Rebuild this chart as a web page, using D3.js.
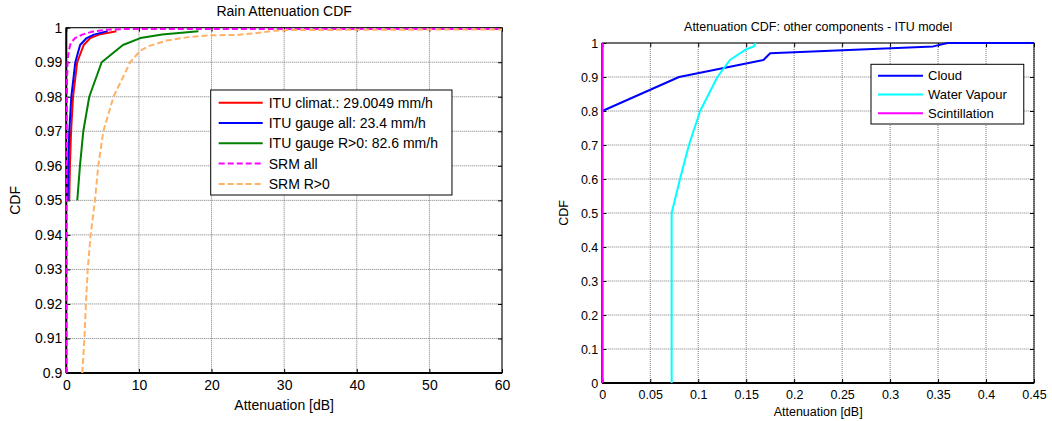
<!DOCTYPE html>
<html><head><meta charset="utf-8">
<script src="https://cdn.jsdelivr.net/npm/d3@7"></script>
<style>body{margin:0;background:#fff}svg{display:block}text{font-family:"Liberation Sans",Arial,sans-serif;fill:#000}</style>
</head><body>
<svg id="c" width="1052" height="421"></svg>
<script>
// ---------- Data: Rain Attenuation CDF (left) ----------
const ituProbs = [0.95,0.96,0.97,0.98,0.99,0.995,0.997,0.998,0.999];
const ituClimat = [0.41,0.50,0.66,0.93,1.50,2.40,3.30,4.50,6.90];
const ituGaugeAll = [0.20,0.28,0.41,0.69,1.24,1.90,2.80,3.80,5.70];
const ituGaugePos = [1.51,1.88,2.34,3.16,4.87,7.80,10.2,13.2,18.2];
const srmAllX = [0.03,0.05,0.10,0.18,0.30,0.60,1.20,2.20,3.50,5.50,8.0,60];
const srmAllY = [0.90,0.97,0.985,0.99,0.993,0.9955,0.997,0.998,0.9988,0.9994,0.9996,0.9996];
const srmPosX = [2.2,2.35,2.5,2.7,2.95,3.15,3.35,3.95,4.4,5.1,6.5,8.8,10.2,11.55,13.85,16.6,19.8,23.5,26.0,28.5,30.5,40,60];
const srmPosY = [0.90,0.905,0.91,0.92,0.93,0.935,0.94,0.95,0.96,0.97,0.98,0.99,0.9934,0.9948,0.9963,0.9972,0.9978,0.9979,0.9984,0.9991,0.9993,0.9994,0.9995];
const leftXTicks = [0,10,20,30,40,50,60];
const leftYTicks = [0.9,0.91,0.92,0.93,0.94,0.95,0.96,0.97,0.98,0.99,1];
const leftLabels = ["ITU climat.: 29.0049 mm/h","ITU gauge all: 23.4 mm/h","ITU gauge R>0: 82.6 mm/h","SRM all","SRM R>0"];

// ---------- Data: other components (right) ----------
const cloudX = [0,0.08,0.168,0.175,0.345,0.36,0.45];
const cloudY = [0.8,0.9,0.95,0.97,0.99,1.0,1.0];
const vapourX = [0.0723,0.0723,0.081,0.0903,0.102,0.120,0.133,0.149,0.158,0.160];
const vapourY = [0,0.5,0.6,0.7,0.8,0.9,0.95,0.98,0.99,1.0];
const scintX = [0,0];
const scintY = [0,1];
const rightXTicks = [0,0.05,0.1,0.15,0.2,0.25,0.3,0.35,0.4,0.45];
const rightYTicks = [0,0.1,0.2,0.3,0.4,0.5,0.6,0.7,0.8,0.9,1];
const rightLabels = ["Cloud","Water Vapour","Scintillation"];

const svg = d3.select("#c");

function panel(o){
  const g = svg.append("g");
  const x = d3.scaleLinear().domain(o.xd).range([o.x0,o.x1]);
  const y = d3.scaleLinear().domain(o.yd).range([o.y1,o.y0]);
  // grid
  g.selectAll(".gx").data(o.xt).join("line")
    .attr("x1",d=>x(d)).attr("x2",d=>x(d)).attr("y1",o.y0).attr("y2",o.y1)
    .attr("stroke","#7a7a7a").attr("stroke-width",1).attr("stroke-dasharray","1,1");
  g.selectAll(".gy").data(o.yt).join("line")
    .attr("y1",d=>y(d)).attr("y2",d=>y(d)).attr("x1",o.x0).attr("x2",o.x1)
    .attr("stroke","#7a7a7a").attr("stroke-width",1).attr("stroke-dasharray","1,1");
  // axes
  const fs = o.fs;
  const ax = g.append("g").attr("transform",`translate(0,${o.y1})`)
    .call(d3.axisBottom(x).tickValues(o.xt).tickSize(-4).tickPadding(7).tickFormat(d=>String(+d.toFixed(3))));
  const ay = g.append("g").attr("transform",`translate(${o.x0},0)`)
    .call(d3.axisLeft(y).tickValues(o.yt).tickSize(-4).tickPadding(4).tickFormat(d=>String(+d.toFixed(3))));
  const at = g.append("g").attr("transform",`translate(0,${o.y0})`)
    .call(d3.axisTop(x).tickValues(o.xt).tickSize(-4).tickFormat(""));
  const ar = g.append("g").attr("transform",`translate(${o.x1},0)`)
    .call(d3.axisRight(y).tickValues(o.yt).tickSize(-4).tickFormat(""));
  [ax,ay,at,ar].forEach(a=>{
    a.select(".domain").remove();
    a.selectAll("line").attr("stroke","#000");
    a.selectAll("text").style("font-size",fs+"px").attr("fill","#000");
  });
  ax.selectAll("text").attr("dy","0.71em");
  // box
  g.append("rect").attr("x",o.x0).attr("y",o.y0).attr("width",o.x1-o.x0).attr("height",o.y1-o.y0)
    .attr("fill","none").attr("stroke","#000").attr("stroke-width",1);
  g.append("line").attr("x1",o.x0).attr("x2",o.x1).attr("y1",o.y1).attr("y2",o.y1).attr("stroke","#000").attr("stroke-width",2);
  g.append("line").attr("x1",o.x0).attr("x2",o.x0).attr("y1",o.y0).attr("y2",o.y1).attr("stroke","#000").attr("stroke-width",2);
  // clip
  const cid = "clip"+o.id;
  svg.append("clipPath").attr("id",cid).append("rect")
    .attr("x",o.x0-1).attr("y",o.y0-1).attr("width",o.x1-o.x0+2).attr("height",o.y1-o.y0+2);
  const line = d3.line().x(d=>x(d[0])).y(d=>y(d[1]));
  const lg = g.append("g").attr("clip-path",`url(#${cid})`);
  o.series.forEach(s=>{
    lg.append("path").datum(d3.zip(s.x,s.y)).attr("d",line)
      .attr("fill","none").attr("stroke",s.c).attr("stroke-width",2)
      .attr("stroke-dasharray",s.dash||null).attr("stroke-linejoin","round");
  });
  // titles
  g.append("text").attr("x",(o.x0+o.x1)/2).attr("y",o.ty).attr("text-anchor","middle").style("font-size",fs+"px").text(o.title);
  g.append("text").attr("x",(o.x0+o.x1)/2).attr("y",o.xly).attr("text-anchor","middle").style("font-size",fs+"px").text("Attenuation [dB]");
  g.append("text").attr("transform",`translate(${o.ylx},${(o.y0+o.y1)/2}) rotate(-90)`).attr("text-anchor","middle").style("font-size",fs+"px").text("CDF");
  // legend
  const L = o.legend;
  const lfs = L.fs || fs;
  const lgd = g.append("g");
  const rows = o.series.map((s,i)=>({s,label:o.labels[i]}));
  const tmp = lgd.append("g");
  let maxW = 0;
  rows.forEach(r=>{const t=tmp.append("text").style("font-size",lfs+"px").text(r.label); maxW=Math.max(maxW,t.node().getComputedTextLength());});
  tmp.remove();
  const bw = L.textDx + maxW + L.padR;
  lgd.append("rect").attr("x",L.x).attr("y",L.y).attr("width",bw).attr("height",L.h)
    .attr("fill","#fff").attr("stroke","#000").attr("stroke-width",1);
  rows.forEach((r,i)=>{
    const yy = L.y + L.first + i*L.step;
    lgd.append("line").attr("x1",L.x+L.l0).attr("x2",L.x+L.l1).attr("y1",yy).attr("y2",yy)
      .attr("stroke",r.s.c).attr("stroke-width",2).attr("stroke-dasharray",r.s.dash||null);
    lgd.append("text").attr("x",L.x+L.textDx).attr("y",yy).attr("dy","0.35em").style("font-size",lfs+"px").text(r.label);
  });
}

panel({id:"L",x0:66.3,x1:502,y0:27.7,y1:373,xd:[0,60],yd:[0.9,1],xt:leftXTicks,yt:leftYTicks,fs:14,
  title:"Rain Attenuation CDF",ty:16,xly:410,ylx:20,
  series:[
    {x:ituClimat,y:ituProbs,c:"#ff0000"},
    {x:ituGaugeAll,y:ituProbs,c:"#0000ff"},
    {x:ituGaugePos,y:ituProbs,c:"#008000"},
    {x:srmAllX,y:srmAllY,c:"#ff00ff",dash:"6,3"},
    {x:srmPosX,y:srmPosY,c:"#ffb266",dash:"6,3"}
  ],labels:leftLabels,
  legend:{x:210.7,y:90,h:105,first:12.7,step:20.3,l0:8,l1:52,textDx:58,padR:14}
});

panel({id:"R",x0:602.3,x1:1034,y0:43,y1:383,xd:[0,0.45],yd:[0,1],xt:rightXTicks,yt:rightYTicks,fs:12.5,
  title:"Attenuation CDF: other components - ITU model",ty:31,xly:416,ylx:568,
  series:[
    {x:cloudX,y:cloudY,c:"#0000ff"},
    {x:vapourX,y:vapourY,c:"#00ffff"},
    {x:scintX,y:scintY,c:"#ff00ff"}
  ],labels:rightLabels,
  legend:{x:871,y:64.3,h:59.7,first:11.4,step:18.8,l0:7,l1:52,textDx:57,padR:17,fs:13}
});
</script>
</body></html>
